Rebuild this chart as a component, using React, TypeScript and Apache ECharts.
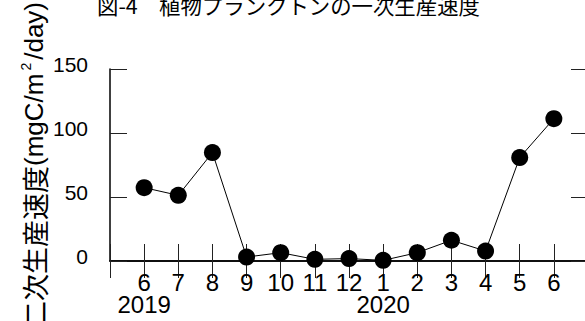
import React, { useEffect, useRef } from "react";
import * as echarts from "echarts";

// Survey months, June 2019 through June 2020
const months = [6, 7, 8, 9, 10, 11, 12, 1, 2, 3, 4, 5, 6];
// Year caption shown beneath the first month of each year
const yearLabels = ["2019", "", "", "", "", "", "", "2020", "", "", "", "", ""];
// Primary production rate (mgC/m²/day)
const production = [57.3, 51.3, 84.7, 3.1, 6.5, 1.3, 1.9, 0.5, 6.5, 16.2, 7.8, 80.8, 111.2];
const yTicks = [0, 50, 100, 150];

const TITLE = "図-4　植物プランクトンの一次生産速度";
const LATIN = "'Liberation Sans', Arial, sans-serif";
const CJK = "'Noto Sans CJK JP', 'Liberation Sans', sans-serif";

// Months are placed at positions 6..18 on a value axis running 5..19
const OFFSET = 6;

export default function App() {
  const ref = useRef<HTMLDivElement>(null);

  useEffect(() => {
    if (!ref.current) return;
    const chart = echarts.init(ref.current, undefined, { renderer: "svg" });

    const points = production.map((v, i) => [i + OFFSET, v]);

    const monthLabel = (v: number) => {
      const i = Math.round(v) - OFFSET;
      if (i < 0 || i >= months.length) return "";
      return yearLabels[i] ? `${months[i]}\n${yearLabels[i]}` : `${months[i]}`;
    };

    const xBase = {
      type: "value" as const,
      min: OFFSET - 1,
      max: OFFSET + months.length,
      interval: 1,
      splitLine: { show: false },
      axisLine: { show: true, lineStyle: { color: "#000", width: 1.5 } },
      axisTick: { show: true, inside: true, length: 17, lineStyle: { color: "#222", width: 1 } },
    };
    const yBase = {
      type: "value" as const,
      min: yTicks[0],
      max: yTicks[yTicks.length - 1],
      interval: yTicks[1] - yTicks[0],
      splitLine: { show: false },
      axisLine: { show: true, lineStyle: { color: "#000", width: 1.5 } },
      axisTick: { show: true, inside: true, length: 17, lineStyle: { color: "#222", width: 1 } },
    };

    chart.setOption({
      animation: false,
      backgroundColor: "#fff",
      title: {
        text: TITLE,
        left: 97,
        top: -6,
        padding: 0,
        textStyle: { fontFamily: CJK, fontSize: 21.4, fontWeight: "normal", color: "#000" },
      },
      grid: { left: 110, top: 69, width: 478, bottom: 60, outerBoundsMode: "none", containLabel: false },
      xAxis: [
        {
          ...xBase,
          position: "bottom",
          axisLabel: {
            formatter: monthLabel,
            fontFamily: LATIN,
            fontSize: 24,
            color: "#000",
            margin: 10,
            lineHeight: 22,
          },
        },
        { ...xBase, position: "top", axisLabel: { show: false } },
      ],
      yAxis: [
        {
          ...yBase,
          position: "left",
          name: "{a|二次生産速度}{b|(mgC/m}{s|2}{b|/day)}",
          nameLocation: "middle",
          nameRotate: 90,
          nameGap: 61,
          nameMoveOverlap: false,
          nameTextStyle: {
            rich: {
              a: { fontFamily: CJK, fontSize: 27, color: "#000", lineHeight: 30 },
              b: { fontFamily: LATIN, fontSize: 26, color: "#000", lineHeight: 30 },
              s: { fontFamily: LATIN, fontSize: 14, color: "#000", verticalAlign: "top", lineHeight: 30, padding: [0, 3, 0, 3] },
            },
          },
          axisLabel: {
            formatter: (v: number) => String(v),
            fontFamily: LATIN,
            fontSize: 21,
            color: "#000",
            margin: 22,
            verticalAlign: "bottom",
            lineHeight: 10,
          },
        },
        { ...yBase, position: "right", axisLabel: { show: false } },
      ],
      series: [
        {
          type: "line",
          xAxisIndex: 0,
          yAxisIndex: 0,
          data: points,
          symbol: "circle",
          symbolSize: 17,
          itemStyle: { color: "#000" },
          lineStyle: { color: "#000", width: 1 },
        },
      ],
    });

    return () => chart.dispose();
  }, []);

  return <div ref={ref} style={{ width: 585, height: 321, position: "absolute", left: 0, top: 0 }} />;
}
